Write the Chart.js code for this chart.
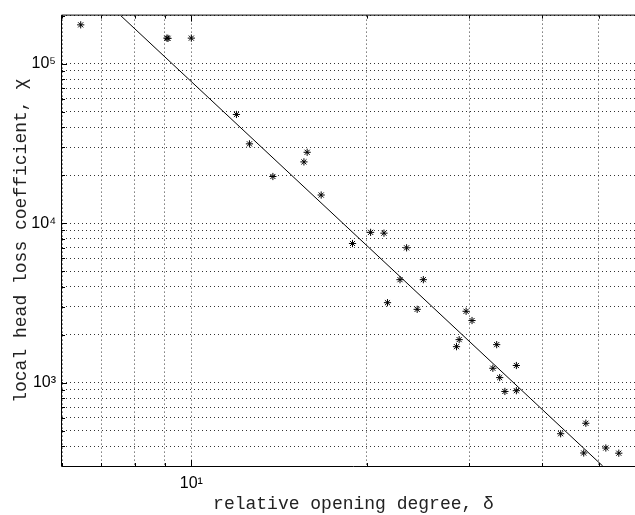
<!DOCTYPE html>
<html>
<head>
<meta charset="utf-8">
<script src="https://cdn.jsdelivr.net/npm/chart.js@4"></script>
<style>
html, body { margin: 0; padding: 0; background: #fff; overflow: hidden; }
</style>
</head>
<body>
<canvas id="myChart" width="660" height="515"></canvas>
<script>
// measured points: relative opening degree vs local head loss coefficient
var delta = [6.46, 9.08, 9.12, 10.0, 11.95, 12.58, 13.8, 15.8, 15.6, 16.7,
             18.9, 20.3, 21.4, 23.4, 22.8, 25.0, 21.7, 24.4, 29.6, 30.3,
             28.8, 28.5, 33.4, 32.9, 36.1, 33.8, 34.5, 36.1, 47.5, 43.0,
             47.1, 51.4, 54.1];
var chi = [175000, 144500, 144000, 144500, 48000, 31400, 19600, 27800, 24200, 15000,
           7450, 8750, 8650, 7000, 4420, 4420, 3170, 2880, 2800, 2450,
           1860, 1680, 1730, 1230, 1280, 1075, 880, 890, 556, 478,
           362, 389, 361];

// fitted power law line, ends read where it meets the axes box
var fitDelta = [7.565, 50.77];
var fitChi = [200000, 300];

// axis ticks (grid lines) and the labelled ones
var xTicks = [6, 7, 8, 9, 10, 20, 30, 40, 50, 60];
var yTicks = [300, 400, 500, 600, 700, 800, 900,
              1000, 2000, 3000, 4000, 5000, 6000, 7000, 8000, 9000,
              10000, 20000, 30000, 40000, 50000, 60000, 70000, 80000, 90000,
              100000, 200000];
var xLabelValues = [10];
var xLabelText = ['10\u00b9'];
var yLabelValues = [1000, 10000, 100000];
var yLabelText = ['10\u00b3', '10\u2074', '10\u2075'];

var points = delta.map(function (d, i) { return { x: d, y: chi[i] }; });
var fit = fitDelta.map(function (d, i) { return { x: d, y: fitChi[i] }; });

function isPow10(v) {
    var l = Math.log10(v);
    return Math.abs(l - Math.round(l)) < 1e-9;
}

// axes box plus matlab style inner tick marks
var boxPlugin = {
    id: 'boxPlugin',
    afterDatasetsDraw: function (chart) {
        var ctx = chart.ctx;
        var a = chart.chartArea;
        var xs = chart.scales.x, ys = chart.scales.y;
        ctx.save();
        ctx.strokeStyle = '#000';
        ctx.lineWidth = 1;
        ctx.setLineDash([]);
        ctx.beginPath();
        ctx.moveTo(a.left - 0.5, a.top - 0.5);
        ctx.lineTo(a.right + 0.5, a.top - 0.5);
        ctx.lineTo(a.right + 0.5, a.bottom + 0.5);
        ctx.lineTo(a.left - 0.5, a.bottom + 0.5);
        ctx.closePath();
        ctx.stroke();

        ctx.beginPath();
        ys.ticks.forEach(function (t) {
            var py = Math.round(ys.getPixelForValue(t.value)) + 0.5;
            var len = isPow10(t.value) ? 5 : 3;
            ctx.moveTo(a.left, py);
            ctx.lineTo(a.left + len, py);
            ctx.moveTo(a.right, py);
            ctx.lineTo(a.right - len, py);
        });
        xs.ticks.forEach(function (t) {
            var px = Math.round(xs.getPixelForValue(t.value)) + 0.5;
            var len = isPow10(t.value) ? 6 : 3;
            ctx.moveTo(px, a.bottom);
            ctx.lineTo(px, a.bottom - len);
            ctx.moveTo(px, a.top);
            ctx.lineTo(px, a.top + len);
        });
        ctx.stroke();
        ctx.restore();
    }
};

var ctx = document.getElementById('myChart').getContext('2d');

var chart = new Chart(ctx, {
    type: 'scatter',
    data: {
        datasets: [{
            label: 'measured',
            data: points,
            pointStyle: 'star',
            pointRadius: 3.6,
            borderColor: '#000',
            backgroundColor: '#000',
            borderWidth: 1,
            showLine: false
        }, {
            label: 'fit',
            data: fit,
            showLine: true,
            borderColor: '#000',
            borderWidth: 1,
            pointRadius: 0,
            fill: false
        }]
    },
    options: {
        responsive: false,
        animation: false,
        layout: { padding: { top: 6, right: 15, left: 0, bottom: 0 } },
        plugins: {
            legend: { display: false },
            tooltip: { enabled: false }
        },
        scales: {
            x: {
                type: 'logarithmic',
                min: 6,
                max: 60,
                afterBuildTicks: function (s) {
                    s.ticks = xTicks.map(function (v) { return { value: v }; });
                },
                afterFit: function (s) { s.height = 49; },
                ticks: {
                    autoSkip: false,
                    maxRotation: 0,
                    padding: 8,
                    color: '#000',
                    font: { family: 'Liberation Sans', size: 16 },
                    callback: function (v) {
                        var k = xLabelValues.indexOf(v);
                        return k >= 0 ? xLabelText[k] : '';
                    }
                },
                grid: { color: '#333', lineWidth: 1, drawTicks: false },
                border: { display: false, dash: [1, 3] },
                title: {
                    display: true,
                    text: 'relative opening degree, \u03b4',
                    color: '#222',
                    font: { family: 'Liberation Mono', size: 18 },
                    padding: { top: 0, bottom: 0 }
                }
            },
            y: {
                type: 'logarithmic',
                min: 300,
                max: 200000,
                afterBuildTicks: function (s) {
                    s.ticks = yTicks.map(function (v) { return { value: v }; });
                },
                afterFit: function (s) { s.width = 62; },
                ticks: {
                    autoSkip: false,
                    padding: 6,
                    color: '#000',
                    font: { family: 'Liberation Sans', size: 16 },
                    callback: function (v) {
                        var k = yLabelValues.indexOf(v);
                        return k >= 0 ? yLabelText[k] : '';
                    }
                },
                grid: { color: '#333', lineWidth: 1, drawTicks: false },
                border: { display: false, dash: [1, 3] },
                title: {
                    display: true,
                    text: 'local head loss coefficient, \u03c7',
                    color: '#222',
                    font: { family: 'Liberation Mono', size: 18 },
                    padding: { top: 10, bottom: 0 }
                }
            }
        }
    },
    plugins: [boxPlugin]
});
</script>
</body>
</html>
